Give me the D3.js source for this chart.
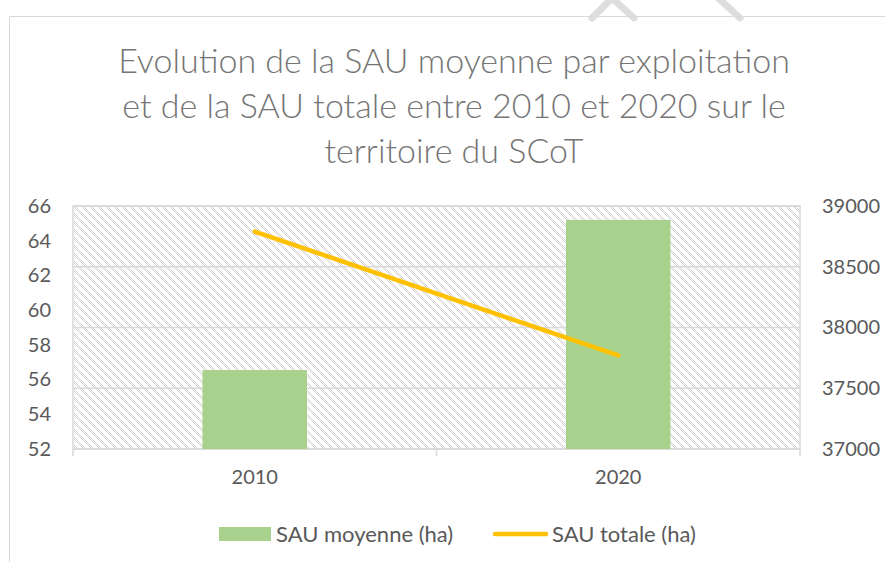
<!DOCTYPE html>
<html>
<head>
<meta charset="utf-8">
<script src="https://cdn.jsdelivr.net/npm/d3@7"></script>
<style>
  html, body { margin: 0; padding: 0; background: #ffffff; }
  svg { display: block; font-family: Lato, "Open Sans", sans-serif; }
</style>
</head>
<body>
<svg id="chart" width="885" height="562"></svg>
<script>
// Data
const years = ["2010", "2020"];
const sauMoyenne = [56.55, 65.2];      // ha per farm (left axis)
const sauTotale = [38790, 37770];      // ha total (right axis)
const leftTicks = [52, 54, 56, 58, 60, 62, 64, 66];
const rightTicks = [37000, 37500, 38000, 38500, 39000];
const titleLines = [
  "Evolution de la SAU moyenne par exploitation",
  "et de la SAU totale entre 2010 et 2020 sur le",
  "territoire du SCoT"
];
const seriesNames = ["SAU moyenne (ha)", "SAU totale (ha)"];

const W = 885, H = 562;
const plot = { left: 73, right: 800, top: 206, bottom: 449 };
const barColor = "#a9d18e", lineColor = "#ffc000";
const gridColor = "#d9d9d9", textColor = "#595959";

const svg = d3.select("#chart");
svg.append("rect").attr("width", W).attr("height", H).attr("fill", "#fff");

// Hatched plot-area fill: checkered diagonal bands
const defs = svg.append("defs");
const pat = defs.append("pattern").attr("id", "hatch")
  .attr("patternUnits", "userSpaceOnUse").attr("width", 8).attr("height", 8)
  .attr("x", plot.left).attr("y", plot.top);
pat.append("rect").attr("width", 8).attr("height", 8).attr("fill", "#fff");
for (let y = 0; y < 8; y++) {
  for (let x = 0; x < 8; x++) {
    if ((x + y) % 2 === 0 && ((x - y + 16) % 8) < 4) {
      pat.append("rect").attr("x", x).attr("y", y).attr("width", 1).attr("height", 1)
        .attr("fill", "#d4d4d4");
    }
  }
}

// Outer chart frame and faint stamp strokes along the top edge
svg.append("path")
  .attr("d", "M592,18 L612,-2 L634,18 M716,-4 L740,18")
  .attr("fill", "none").attr("stroke", "#dedede").attr("stroke-width", 7)
  .attr("stroke-linecap", "round");
svg.append("path")
  .attr("d", `M9.5,${H} V16.5 H${W}`)
  .attr("fill", "none").attr("stroke", gridColor).attr("stroke-width", 1);

// Scales
const x = d3.scaleBand().domain(years).range([plot.left, plot.right]);
const yL = d3.scaleLinear().domain([52, 66]).range([plot.bottom, plot.top]);
const yR = d3.scaleLinear().domain([37000, 39000]).range([plot.bottom, plot.top]);

svg.append("rect")
  .attr("x", plot.left).attr("y", plot.top)
  .attr("width", plot.right - plot.left).attr("height", plot.bottom - plot.top)
  .attr("fill", "url(#hatch)").attr("stroke", gridColor).attr("stroke-width", 1.5);

// Gridlines follow the right-axis ticks
svg.append("g").selectAll("line").data(rightTicks).join("line")
  .attr("x1", plot.left).attr("x2", plot.right)
  .attr("y1", d => yR(d)).attr("y2", d => yR(d))
  .attr("stroke", gridColor).attr("stroke-width", 1.5);

// Category boundary ticks below the x axis
const bounds = [plot.left, ...years.slice(1).map(d => x(d)), plot.right];
svg.append("g").selectAll("line").data(bounds).join("line")
  .attr("x1", d => d).attr("x2", d => d)
  .attr("y1", plot.bottom).attr("y2", plot.bottom + 7)
  .attr("stroke", gridColor).attr("stroke-width", 1.5);

// Bars
const barW = x.bandwidth() * 0.2875;
svg.append("g").selectAll("rect").data(years).join("rect")
  .attr("x", d => x(d) + x.bandwidth() / 2 - barW / 2)
  .attr("width", barW)
  .attr("y", (d, i) => yL(sauMoyenne[i]))
  .attr("height", (d, i) => yL(52) - yL(sauMoyenne[i]))
  .attr("fill", barColor);

// Line
const line = d3.line()
  .x((d, i) => x(years[i]) + x.bandwidth() / 2)
  .y(d => yR(d));
svg.append("path").datum(sauTotale)
  .attr("d", line).attr("fill", "none")
  .attr("stroke", lineColor).attr("stroke-width", 4.5).attr("stroke-linecap", "round");

// Axes (text only)
const axisFont = 20;
const gL = svg.append("g").attr("transform", `translate(${plot.left - 22},0)`)
  .call(d3.axisLeft(yL).tickValues(leftTicks).tickSize(0).tickPadding(0));
const gR = svg.append("g").attr("transform", `translate(${plot.right + 22},0)`)
  .call(d3.axisRight(yR).tickValues(rightTicks).tickSize(0).tickPadding(0).tickFormat(d3.format("d")));
const gX = svg.append("g").attr("transform", `translate(0,${plot.bottom + 21})`)
  .call(d3.axisBottom(x).tickSize(0).tickPadding(0));
[gL, gR, gX].forEach(g => {
  g.select(".domain").remove();
  g.selectAll("text").attr("fill", textColor).style("font-size", axisFont + "px")
    .style("font-family", "Lato, sans-serif");
});

// Title
const title = svg.append("g").attr("fill", "#757575")
  .style("font-size", "34px").style("font-weight", 300);
title.selectAll("text").data(titleLines).join("text")
  .attr("x", 454).attr("y", (d, i) => 73 + i * 45)
  .attr("text-anchor", "middle").text(d => d);

// Legend
const lg = svg.append("g").style("font-size", "22px").attr("fill", textColor);
lg.append("rect").attr("x", 219).attr("y", 527).attr("width", 52).attr("height", 14).attr("fill", barColor);
lg.append("text").attr("x", 276).attr("y", 542).text(seriesNames[0]);
lg.append("line").attr("x1", 495).attr("x2", 546).attr("y1", 534).attr("y2", 534)
  .attr("stroke", lineColor).attr("stroke-width", 4.5).attr("stroke-linecap", "round");
lg.append("text").attr("x", 552).attr("y", 542).text(seriesNames[1]);
</script>
</body>
</html>
